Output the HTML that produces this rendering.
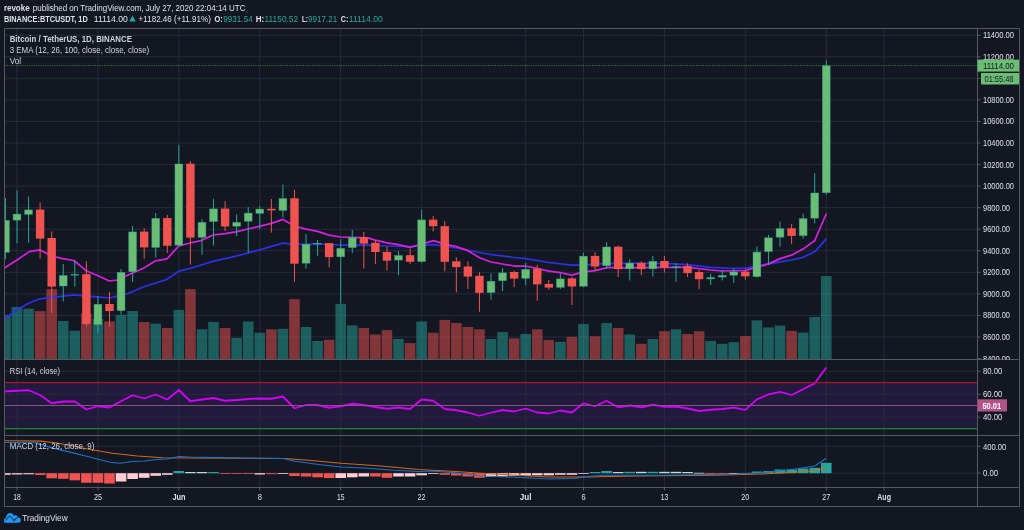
<!DOCTYPE html><html><head><meta charset="utf-8"><style>html,body{margin:0;padding:0;background:#131722;width:1024px;height:530px;overflow:hidden}svg{display:block}.ov{position:absolute;left:0;top:0;will-change:transform}text{font-family:"Liberation Sans",sans-serif}</style></head><body>
<svg width="1024" height="530" viewBox="0 0 1024 530">
<rect x="0" y="0" width="1024" height="530" fill="#131722"/>
<defs><clipPath id="main"><rect x="4.5" y="28.5" width="973" height="330.5"/></clipPath><clipPath id="rsi"><rect x="4.5" y="360.5" width="973" height="75"/></clipPath><clipPath id="macd"><rect x="4.5" y="436" width="973" height="51"/></clipPath></defs>
<rect x="4.5" y="382.5" width="973" height="46.25" fill="#221a3c"/>
<path d="M4.5 336.97H977.5 M4.5 315.42H977.5 M4.5 293.87H977.5 M4.5 272.32H977.5 M4.5 250.76H977.5 M4.5 229.21H977.5 M4.5 207.66H977.5 M4.5 186.11H977.5 M4.5 164.56H977.5 M4.5 143.0H977.5 M4.5 121.45H977.5 M4.5 99.9H977.5 M4.5 78.35H977.5 M4.5 56.8H977.5 M4.5 35.24H977.5 M4.5 371.2H977.5 M4.5 394.3H977.5 M4.5 417.2H977.5 M4.5 446.3H977.5 M4.5 473.2H977.5 M17.0 28.5V487.5 M97.93 28.5V487.5 M178.85 28.5V487.5 M259.78 28.5V487.5 M340.71 28.5V487.5 M421.63 28.5V487.5 M525.68 28.5V487.5 M583.49 28.5V487.5 M664.42 28.5V487.5 M745.34 28.5V487.5 M826.27 28.5V487.5 M884.08 28.5V487.5" stroke="#272b3c" stroke-width="1" fill="none"/>
<path d="M4.5 65.5H977.5" stroke="#4caf50" stroke-opacity="0.65" stroke-width="1" stroke-dasharray="1.1 1.16"/>
<g clip-path="url(#main)">
<rect x="0.14" y="315.00" width="10.6" height="44.00" fill="rgba(38,166,154,0.5)"/>
<rect x="11.70" y="307.00" width="10.6" height="52.00" fill="rgba(38,166,154,0.5)"/>
<rect x="23.26" y="308.70" width="10.6" height="50.30" fill="rgba(38,166,154,0.5)"/>
<rect x="34.82" y="311.10" width="10.6" height="47.90" fill="rgba(239,83,80,0.5)"/>
<rect x="46.38" y="289.10" width="10.6" height="69.90" fill="rgba(239,83,80,0.5)"/>
<rect x="57.94" y="321.00" width="10.6" height="38.00" fill="rgba(38,166,154,0.5)"/>
<rect x="69.51" y="330.70" width="10.6" height="28.30" fill="rgba(38,166,154,0.5)"/>
<rect x="81.07" y="313.50" width="10.6" height="45.50" fill="rgba(239,83,80,0.5)"/>
<rect x="92.63" y="318.80" width="10.6" height="40.20" fill="rgba(38,166,154,0.5)"/>
<rect x="104.19" y="321.40" width="10.6" height="37.60" fill="rgba(239,83,80,0.5)"/>
<rect x="115.75" y="314.80" width="10.6" height="44.20" fill="rgba(38,166,154,0.5)"/>
<rect x="127.31" y="311.00" width="10.6" height="48.00" fill="rgba(38,166,154,0.5)"/>
<rect x="138.87" y="322.00" width="10.6" height="37.00" fill="rgba(239,83,80,0.5)"/>
<rect x="150.43" y="323.50" width="10.6" height="35.50" fill="rgba(38,166,154,0.5)"/>
<rect x="161.99" y="328.00" width="10.6" height="31.00" fill="rgba(239,83,80,0.5)"/>
<rect x="173.55" y="310.00" width="10.6" height="49.00" fill="rgba(38,166,154,0.5)"/>
<rect x="185.11" y="289.10" width="10.6" height="69.90" fill="rgba(239,83,80,0.5)"/>
<rect x="196.68" y="329.30" width="10.6" height="29.70" fill="rgba(38,166,154,0.5)"/>
<rect x="208.24" y="322.00" width="10.6" height="37.00" fill="rgba(38,166,154,0.5)"/>
<rect x="219.80" y="328.00" width="10.6" height="31.00" fill="rgba(239,83,80,0.5)"/>
<rect x="231.36" y="337.90" width="10.6" height="21.10" fill="rgba(38,166,154,0.5)"/>
<rect x="242.92" y="321.50" width="10.6" height="37.50" fill="rgba(38,166,154,0.5)"/>
<rect x="254.48" y="332.70" width="10.6" height="26.30" fill="rgba(38,166,154,0.5)"/>
<rect x="266.04" y="329.30" width="10.6" height="29.70" fill="rgba(239,83,80,0.5)"/>
<rect x="277.60" y="328.80" width="10.6" height="30.20" fill="rgba(38,166,154,0.5)"/>
<rect x="289.16" y="299.10" width="10.6" height="59.90" fill="rgba(239,83,80,0.5)"/>
<rect x="300.72" y="327.00" width="10.6" height="32.00" fill="rgba(38,166,154,0.5)"/>
<rect x="312.29" y="341.00" width="10.6" height="18.00" fill="rgba(38,166,154,0.5)"/>
<rect x="323.85" y="339.80" width="10.6" height="19.20" fill="rgba(239,83,80,0.5)"/>
<rect x="335.41" y="303.90" width="10.6" height="55.10" fill="rgba(38,166,154,0.5)"/>
<rect x="346.97" y="325.40" width="10.6" height="33.60" fill="rgba(38,166,154,0.5)"/>
<rect x="358.53" y="328.00" width="10.6" height="31.00" fill="rgba(239,83,80,0.5)"/>
<rect x="370.09" y="334.50" width="10.6" height="24.50" fill="rgba(239,83,80,0.5)"/>
<rect x="381.65" y="330.10" width="10.6" height="28.90" fill="rgba(239,83,80,0.5)"/>
<rect x="393.21" y="339.00" width="10.6" height="20.00" fill="rgba(38,166,154,0.5)"/>
<rect x="404.77" y="343.10" width="10.6" height="15.90" fill="rgba(239,83,80,0.5)"/>
<rect x="416.33" y="321.50" width="10.6" height="37.50" fill="rgba(38,166,154,0.5)"/>
<rect x="427.90" y="332.70" width="10.6" height="26.30" fill="rgba(239,83,80,0.5)"/>
<rect x="439.46" y="319.90" width="10.6" height="39.10" fill="rgba(239,83,80,0.5)"/>
<rect x="451.02" y="323.00" width="10.6" height="36.00" fill="rgba(239,83,80,0.5)"/>
<rect x="462.58" y="327.00" width="10.6" height="32.00" fill="rgba(239,83,80,0.5)"/>
<rect x="474.14" y="329.30" width="10.6" height="29.70" fill="rgba(239,83,80,0.5)"/>
<rect x="485.70" y="339.00" width="10.6" height="20.00" fill="rgba(38,166,154,0.5)"/>
<rect x="497.26" y="332.10" width="10.6" height="26.90" fill="rgba(38,166,154,0.5)"/>
<rect x="508.82" y="338.40" width="10.6" height="20.60" fill="rgba(239,83,80,0.5)"/>
<rect x="520.38" y="334.00" width="10.6" height="25.00" fill="rgba(38,166,154,0.5)"/>
<rect x="531.95" y="329.30" width="10.6" height="29.70" fill="rgba(239,83,80,0.5)"/>
<rect x="543.51" y="339.90" width="10.6" height="19.10" fill="rgba(239,83,80,0.5)"/>
<rect x="555.07" y="341.80" width="10.6" height="17.20" fill="rgba(38,166,154,0.5)"/>
<rect x="566.63" y="336.80" width="10.6" height="22.20" fill="rgba(239,83,80,0.5)"/>
<rect x="578.19" y="324.10" width="10.6" height="34.90" fill="rgba(38,166,154,0.5)"/>
<rect x="589.75" y="336.30" width="10.6" height="22.70" fill="rgba(239,83,80,0.5)"/>
<rect x="601.31" y="323.00" width="10.6" height="36.00" fill="rgba(38,166,154,0.5)"/>
<rect x="612.87" y="328.00" width="10.6" height="31.00" fill="rgba(239,83,80,0.5)"/>
<rect x="624.43" y="334.50" width="10.6" height="24.50" fill="rgba(38,166,154,0.5)"/>
<rect x="635.99" y="343.80" width="10.6" height="15.20" fill="rgba(239,83,80,0.5)"/>
<rect x="647.56" y="339.00" width="10.6" height="20.00" fill="rgba(38,166,154,0.5)"/>
<rect x="659.12" y="331.20" width="10.6" height="27.80" fill="rgba(239,83,80,0.5)"/>
<rect x="670.68" y="329.30" width="10.6" height="29.70" fill="rgba(38,166,154,0.5)"/>
<rect x="682.24" y="334.00" width="10.6" height="25.00" fill="rgba(239,83,80,0.5)"/>
<rect x="693.80" y="331.20" width="10.6" height="27.80" fill="rgba(239,83,80,0.5)"/>
<rect x="705.36" y="341.00" width="10.6" height="18.00" fill="rgba(38,166,154,0.5)"/>
<rect x="716.92" y="343.80" width="10.6" height="15.20" fill="rgba(38,166,154,0.5)"/>
<rect x="728.48" y="342.20" width="10.6" height="16.80" fill="rgba(38,166,154,0.5)"/>
<rect x="740.04" y="336.10" width="10.6" height="22.90" fill="rgba(239,83,80,0.5)"/>
<rect x="751.60" y="320.40" width="10.6" height="38.60" fill="rgba(38,166,154,0.5)"/>
<rect x="763.17" y="327.40" width="10.6" height="31.60" fill="rgba(38,166,154,0.5)"/>
<rect x="774.73" y="325.60" width="10.6" height="33.40" fill="rgba(38,166,154,0.5)"/>
<rect x="786.29" y="330.90" width="10.6" height="28.10" fill="rgba(239,83,80,0.5)"/>
<rect x="797.85" y="332.60" width="10.6" height="26.40" fill="rgba(38,166,154,0.5)"/>
<rect x="809.41" y="317.00" width="10.6" height="42.00" fill="rgba(38,166,154,0.5)"/>
<rect x="820.97" y="276.10" width="10.6" height="82.90" fill="rgba(38,166,154,0.5)"/>
<polyline points="4.7,319 15.6,310.5 28.2,303.5 39.9,298.8 52.8,297.4 73.9,294.8 87,296.1 97.6,296.9 109.5,298 117.4,296.1 128,293.5 143,287 155.7,283 167,279.3 178.8,271.2 190,268.5 213,261.4 236,256.1 248,253 283,243.1 294.6,244.4 317.6,244 340.6,245 368,245 387,246 410,246.7 433.4,244.6 456.3,248 479.6,252.5 488,254.1 514,257.5 525.7,258.6 548.9,262.5 572,265.2 583.7,265.2 595,264.1 608,263.3 664.4,263.3 687.6,264.6 710.8,267.3 728,268.1 745.3,268.4 757,265.8 768.6,263.9 780,261.8 791.5,260 803,257.3 814.7,251.8 826.4,238.6" fill="none" stroke="#2c30e6" stroke-width="1.75" stroke-linejoin="round"/>
<polyline points="4.4,268 17,260 29.4,251.6 39.5,249.8 51.5,255.8 62.5,258.7 74,260.5 86,270.7 98,275.8 109.3,281 117.5,280 128,275 143,268.5 155.7,260.8 167,258.8 178.8,246 190,243 202,240.3 213,235 225,233.7 236,231.8 248,229 271.4,223.3 283,219.4 294.6,226 306,229.1 317.6,231.3 329,235.2 340.6,237 352,237.3 368,237.9 375.3,240.1 387,242.8 398.5,244.6 410,247.3 421.7,244.1 433.4,240.7 444.7,244.1 456.3,246.7 468,250.7 479.6,257.8 491,262 514,266 525.7,266 549,271.2 560.3,272.6 572,275.2 583.7,271.8 595,270.7 608,267.3 618,267.8 664.4,267.3 687.6,267.3 710.8,270 722,271 745.3,270.5 757,267.1 768.6,263.9 780,258.6 791.5,255.2 803,249.1 814.7,240.7 826.4,213.5" fill="none" stroke="#d81ee0" stroke-width="1.75" stroke-linejoin="round"/>
<rect x="4.94" y="198.0" width="1" height="61.20" fill="#26a69a"/>
<rect x="1.54" y="220.40" width="7.8" height="31.90" fill="#6bbd74" stroke="#26a69a" stroke-width="0.6" stroke-opacity="0.7"/>
<rect x="16.50" y="190.6" width="1" height="52.70" fill="#26a69a"/>
<rect x="13.10" y="214.10" width="7.8" height="6.00" fill="#6bbd74" stroke="#26a69a" stroke-width="0.6" stroke-opacity="0.7"/>
<rect x="28.06" y="196.6" width="1" height="46.20" fill="#26a69a"/>
<rect x="24.66" y="209.90" width="7.8" height="4.40" fill="#6bbd74" stroke="#26a69a" stroke-width="0.6" stroke-opacity="0.7"/>
<rect x="39.62" y="202.4" width="1" height="56.20" fill="#ef5350"/>
<rect x="35.92" y="209.6" width="8.4" height="29.00" fill="#ef5350"/>
<rect x="51.18" y="231.5" width="1" height="81.80" fill="#ef5350"/>
<rect x="47.48" y="238.0" width="8.4" height="48.60" fill="#ef5350"/>
<rect x="62.74" y="264.0" width="1" height="37.50" fill="#26a69a"/>
<rect x="59.34" y="275.50" width="7.8" height="10.50" fill="#6bbd74" stroke="#26a69a" stroke-width="0.6" stroke-opacity="0.7"/>
<rect x="74.31" y="260.5" width="1" height="26.00" fill="#26a69a"/>
<rect x="70.91" y="274.50" width="7.8" height="0.70" fill="#6bbd74" stroke="#26a69a" stroke-width="0.6" stroke-opacity="0.7"/>
<rect x="85.87" y="261.2" width="1" height="65.50" fill="#ef5350"/>
<rect x="82.17" y="274.2" width="8.4" height="49.80" fill="#ef5350"/>
<rect x="97.43" y="296.2" width="1" height="36.70" fill="#26a69a"/>
<rect x="94.03" y="304.30" width="7.8" height="20.20" fill="#6bbd74" stroke="#26a69a" stroke-width="0.6" stroke-opacity="0.7"/>
<rect x="108.99" y="291.8" width="1" height="34.90" fill="#ef5350"/>
<rect x="105.29" y="304.0" width="8.4" height="7.00" fill="#ef5350"/>
<rect x="120.55" y="269.0" width="1" height="45.50" fill="#26a69a"/>
<rect x="117.15" y="272.30" width="7.8" height="38.30" fill="#6bbd74" stroke="#26a69a" stroke-width="0.6" stroke-opacity="0.7"/>
<rect x="132.11" y="225.8" width="1" height="56.00" fill="#26a69a"/>
<rect x="128.71" y="231.90" width="7.8" height="39.80" fill="#6bbd74" stroke="#26a69a" stroke-width="0.6" stroke-opacity="0.7"/>
<rect x="143.67" y="228.4" width="1" height="30.40" fill="#ef5350"/>
<rect x="139.97" y="231.6" width="8.4" height="15.80" fill="#ef5350"/>
<rect x="155.23" y="213.1" width="1" height="44.30" fill="#26a69a"/>
<rect x="151.83" y="218.40" width="7.8" height="29.00" fill="#6bbd74" stroke="#26a69a" stroke-width="0.6" stroke-opacity="0.7"/>
<rect x="166.79" y="215.0" width="1" height="38.00" fill="#ef5350"/>
<rect x="163.09" y="218.1" width="8.4" height="27.70" fill="#ef5350"/>
<rect x="178.35" y="144.7" width="1" height="102.20" fill="#26a69a"/>
<rect x="174.95" y="164.00" width="7.8" height="81.20" fill="#6bbd74" stroke="#26a69a" stroke-width="0.6" stroke-opacity="0.7"/>
<rect x="189.91" y="161.1" width="1" height="103.50" fill="#ef5350"/>
<rect x="186.22" y="163.7" width="8.4" height="73.90" fill="#ef5350"/>
<rect x="201.48" y="219.2" width="1" height="35.60" fill="#26a69a"/>
<rect x="198.08" y="222.40" width="7.8" height="14.90" fill="#6bbd74" stroke="#26a69a" stroke-width="0.6" stroke-opacity="0.7"/>
<rect x="213.04" y="198.8" width="1" height="46.70" fill="#26a69a"/>
<rect x="209.64" y="208.90" width="7.8" height="12.60" fill="#6bbd74" stroke="#26a69a" stroke-width="0.6" stroke-opacity="0.7"/>
<rect x="224.60" y="201.2" width="1" height="29.80" fill="#ef5350"/>
<rect x="220.90" y="208.6" width="8.4" height="17.90" fill="#ef5350"/>
<rect x="236.16" y="214.4" width="1" height="21.90" fill="#26a69a"/>
<rect x="232.76" y="222.40" width="7.8" height="3.80" fill="#6bbd74" stroke="#26a69a" stroke-width="0.6" stroke-opacity="0.7"/>
<rect x="247.72" y="207.0" width="1" height="45.90" fill="#26a69a"/>
<rect x="244.32" y="213.10" width="7.8" height="8.10" fill="#6bbd74" stroke="#26a69a" stroke-width="0.6" stroke-opacity="0.7"/>
<rect x="259.28" y="206.0" width="1" height="23.00" fill="#26a69a"/>
<rect x="255.88" y="209.10" width="7.8" height="4.20" fill="#6bbd74" stroke="#26a69a" stroke-width="0.6" stroke-opacity="0.7"/>
<rect x="270.84" y="199.0" width="1" height="33.60" fill="#ef5350"/>
<rect x="267.14" y="208.8" width="8.4" height="1.60" fill="#ef5350"/>
<rect x="282.40" y="184.5" width="1" height="33.00" fill="#26a69a"/>
<rect x="279.00" y="198.60" width="7.8" height="11.80" fill="#6bbd74" stroke="#26a69a" stroke-width="0.6" stroke-opacity="0.7"/>
<rect x="293.96" y="189.8" width="1" height="92.10" fill="#ef5350"/>
<rect x="290.26" y="198.3" width="8.4" height="65.40" fill="#ef5350"/>
<rect x="305.52" y="233.9" width="1" height="34.80" fill="#26a69a"/>
<rect x="302.12" y="244.20" width="7.8" height="19.00" fill="#6bbd74" stroke="#26a69a" stroke-width="0.6" stroke-opacity="0.7"/>
<rect x="317.09" y="240.0" width="1" height="15.80" fill="#26a69a"/>
<rect x="313.69" y="243.40" width="7.8" height="0.60" fill="#6bbd74" stroke="#26a69a" stroke-width="0.6" stroke-opacity="0.7"/>
<rect x="328.65" y="243.1" width="1" height="24.30" fill="#ef5350"/>
<rect x="324.95" y="243.1" width="8.4" height="14.00" fill="#ef5350"/>
<rect x="340.21" y="239.2" width="1" height="64.30" fill="#26a69a"/>
<rect x="336.81" y="248.40" width="7.8" height="8.40" fill="#6bbd74" stroke="#26a69a" stroke-width="0.6" stroke-opacity="0.7"/>
<rect x="351.77" y="230.0" width="1" height="22.90" fill="#26a69a"/>
<rect x="348.37" y="237.60" width="7.8" height="10.00" fill="#6bbd74" stroke="#26a69a" stroke-width="0.6" stroke-opacity="0.7"/>
<rect x="363.33" y="231.8" width="1" height="36.60" fill="#ef5350"/>
<rect x="359.63" y="237.3" width="8.4" height="6.30" fill="#ef5350"/>
<rect x="374.89" y="240.0" width="1" height="23.90" fill="#ef5350"/>
<rect x="371.19" y="242.8" width="8.4" height="9.20" fill="#ef5350"/>
<rect x="386.45" y="246.7" width="1" height="23.80" fill="#ef5350"/>
<rect x="382.75" y="252.0" width="8.4" height="8.70" fill="#ef5350"/>
<rect x="398.01" y="251.2" width="1" height="24.00" fill="#26a69a"/>
<rect x="394.61" y="255.50" width="7.8" height="4.60" fill="#6bbd74" stroke="#26a69a" stroke-width="0.6" stroke-opacity="0.7"/>
<rect x="409.57" y="248.6" width="1" height="15.30" fill="#ef5350"/>
<rect x="405.87" y="255.2" width="8.4" height="6.60" fill="#ef5350"/>
<rect x="421.13" y="209.8" width="1" height="52.80" fill="#26a69a"/>
<rect x="417.74" y="219.90" width="7.8" height="41.60" fill="#6bbd74" stroke="#26a69a" stroke-width="0.6" stroke-opacity="0.7"/>
<rect x="432.70" y="215.9" width="1" height="15.50" fill="#ef5350"/>
<rect x="429.00" y="219.6" width="8.4" height="6.60" fill="#ef5350"/>
<rect x="444.26" y="221.1" width="1" height="50.20" fill="#ef5350"/>
<rect x="440.56" y="226.2" width="8.4" height="35.60" fill="#ef5350"/>
<rect x="455.82" y="257.3" width="1" height="35.10" fill="#ef5350"/>
<rect x="452.12" y="261.3" width="8.4" height="5.80" fill="#ef5350"/>
<rect x="467.38" y="261.3" width="1" height="27.70" fill="#ef5350"/>
<rect x="463.68" y="266.5" width="8.4" height="10.10" fill="#ef5350"/>
<rect x="478.94" y="272.3" width="1" height="39.50" fill="#ef5350"/>
<rect x="475.24" y="275.8" width="8.4" height="17.10" fill="#ef5350"/>
<rect x="490.50" y="273.4" width="1" height="26.20" fill="#26a69a"/>
<rect x="487.10" y="281.30" width="7.8" height="11.30" fill="#6bbd74" stroke="#26a69a" stroke-width="0.6" stroke-opacity="0.7"/>
<rect x="502.06" y="268.1" width="1" height="22.90" fill="#26a69a"/>
<rect x="498.66" y="272.90" width="7.8" height="7.80" fill="#6bbd74" stroke="#26a69a" stroke-width="0.6" stroke-opacity="0.7"/>
<rect x="513.62" y="270.7" width="1" height="16.40" fill="#ef5350"/>
<rect x="509.92" y="272.0" width="8.4" height="6.60" fill="#ef5350"/>
<rect x="525.18" y="262.8" width="1" height="22.40" fill="#26a69a"/>
<rect x="521.78" y="269.40" width="7.8" height="8.90" fill="#6bbd74" stroke="#26a69a" stroke-width="0.6" stroke-opacity="0.7"/>
<rect x="536.75" y="264.9" width="1" height="35.90" fill="#ef5350"/>
<rect x="533.04" y="268.6" width="8.4" height="15.80" fill="#ef5350"/>
<rect x="548.31" y="280.0" width="1" height="9.70" fill="#ef5350"/>
<rect x="544.61" y="283.9" width="8.4" height="3.70" fill="#ef5350"/>
<rect x="559.87" y="273.4" width="1" height="15.50" fill="#26a69a"/>
<rect x="556.47" y="278.90" width="7.8" height="8.40" fill="#6bbd74" stroke="#26a69a" stroke-width="0.6" stroke-opacity="0.7"/>
<rect x="571.43" y="277.0" width="1" height="28.00" fill="#ef5350"/>
<rect x="567.73" y="278.4" width="8.4" height="8.10" fill="#ef5350"/>
<rect x="582.99" y="252.8" width="1" height="34.30" fill="#26a69a"/>
<rect x="579.59" y="256.20" width="7.8" height="30.00" fill="#6bbd74" stroke="#26a69a" stroke-width="0.6" stroke-opacity="0.7"/>
<rect x="594.55" y="252.2" width="1" height="19.00" fill="#ef5350"/>
<rect x="590.85" y="255.9" width="8.4" height="10.60" fill="#ef5350"/>
<rect x="606.11" y="242.2" width="1" height="26.90" fill="#26a69a"/>
<rect x="602.71" y="247.00" width="7.8" height="18.70" fill="#6bbd74" stroke="#26a69a" stroke-width="0.6" stroke-opacity="0.7"/>
<rect x="617.67" y="245.6" width="1" height="31.40" fill="#ef5350"/>
<rect x="613.97" y="246.7" width="8.4" height="22.40" fill="#ef5350"/>
<rect x="629.23" y="259.4" width="1" height="21.10" fill="#26a69a"/>
<rect x="625.83" y="263.10" width="7.8" height="5.70" fill="#6bbd74" stroke="#26a69a" stroke-width="0.6" stroke-opacity="0.7"/>
<rect x="640.79" y="261.2" width="1" height="14.00" fill="#ef5350"/>
<rect x="637.09" y="262.8" width="8.4" height="6.30" fill="#ef5350"/>
<rect x="652.36" y="256.0" width="1" height="20.50" fill="#26a69a"/>
<rect x="648.96" y="261.30" width="7.8" height="7.50" fill="#6bbd74" stroke="#26a69a" stroke-width="0.6" stroke-opacity="0.7"/>
<rect x="663.92" y="256.0" width="1" height="16.60" fill="#ef5350"/>
<rect x="660.22" y="261.0" width="8.4" height="6.80" fill="#ef5350"/>
<rect x="675.48" y="263.3" width="1" height="18.50" fill="#26a69a"/>
<rect x="672.08" y="266.80" width="7.8" height="0.70" fill="#6bbd74" stroke="#26a69a" stroke-width="0.6" stroke-opacity="0.7"/>
<rect x="687.04" y="263.3" width="1" height="13.70" fill="#ef5350"/>
<rect x="683.34" y="266.0" width="8.4" height="7.10" fill="#ef5350"/>
<rect x="698.60" y="270.0" width="1" height="19.20" fill="#ef5350"/>
<rect x="694.90" y="272.0" width="8.4" height="7.20" fill="#ef5350"/>
<rect x="710.16" y="273.9" width="1" height="11.10" fill="#26a69a"/>
<rect x="706.76" y="277.60" width="7.8" height="1.30" fill="#6bbd74" stroke="#26a69a" stroke-width="0.6" stroke-opacity="0.7"/>
<rect x="721.72" y="270.0" width="1" height="10.50" fill="#26a69a"/>
<rect x="718.32" y="275.50" width="7.8" height="1.50" fill="#6bbd74" stroke="#26a69a" stroke-width="0.6" stroke-opacity="0.7"/>
<rect x="733.28" y="268.4" width="1" height="14.50" fill="#26a69a"/>
<rect x="729.88" y="271.90" width="7.8" height="3.30" fill="#6bbd74" stroke="#26a69a" stroke-width="0.6" stroke-opacity="0.7"/>
<rect x="744.84" y="269.7" width="1" height="10.10" fill="#ef5350"/>
<rect x="741.14" y="271.6" width="8.4" height="4.70" fill="#ef5350"/>
<rect x="756.40" y="246.5" width="1" height="31.10" fill="#26a69a"/>
<rect x="753.00" y="252.10" width="7.8" height="24.50" fill="#6bbd74" stroke="#26a69a" stroke-width="0.6" stroke-opacity="0.7"/>
<rect x="767.97" y="234.9" width="1" height="30.10" fill="#26a69a"/>
<rect x="764.57" y="237.80" width="7.8" height="13.70" fill="#6bbd74" stroke="#26a69a" stroke-width="0.6" stroke-opacity="0.7"/>
<rect x="779.53" y="221.7" width="1" height="24.80" fill="#26a69a"/>
<rect x="776.13" y="228.60" width="7.8" height="8.60" fill="#6bbd74" stroke="#26a69a" stroke-width="0.6" stroke-opacity="0.7"/>
<rect x="791.09" y="224.1" width="1" height="19.80" fill="#ef5350"/>
<rect x="787.39" y="228.3" width="8.4" height="7.60" fill="#ef5350"/>
<rect x="802.65" y="213.8" width="1" height="24.80" fill="#26a69a"/>
<rect x="799.25" y="218.60" width="7.8" height="17.00" fill="#6bbd74" stroke="#26a69a" stroke-width="0.6" stroke-opacity="0.7"/>
<rect x="814.21" y="173.2" width="1" height="50.10" fill="#26a69a"/>
<rect x="810.81" y="193.00" width="7.8" height="25.20" fill="#6bbd74" stroke="#26a69a" stroke-width="0.6" stroke-opacity="0.7"/>
<rect x="825.77" y="60.5" width="1" height="134.00" fill="#26a69a"/>
<rect x="822.37" y="65.70" width="7.8" height="127.00" fill="#6bbd74" stroke="#26a69a" stroke-width="0.6" stroke-opacity="0.7"/>
</g>
<g clip-path="url(#rsi)"><polyline points="4,391.5 17,390.75 28.6,390.25 40.1,395 51.7,403.25 63.2,401.5 74.8,401.5 86.4,409.5 97.9,406.25 109.5,407.5 121,401.25 132.6,395.25 144.2,398.5 155.7,394.5 167.3,399.5 178.8,390 190.4,401.25 202,399.5 213.5,398 225.1,400.75 236.7,400 248.2,399 259.8,398.5 271.3,398.75 282.9,396.5 294.5,408.25 306,405 317.6,405 329.1,407.75 340.7,406.25 352.3,403.75 363.8,405 375.4,407 387,408.75 398.5,407.5 410.1,409 421.6,399.5 433.2,400.75 444.8,409 456.3,410.25 467.9,412.5 479.4,415.75 491,412.75 502.5,410 514.1,411.5 525.7,408.5 537.2,412.5 548.8,413.5 560.3,410.5 571.9,412.5 583.5,403.25 595,406.25 606.6,400.75 618.2,407.25 629.7,405.5 641.3,407.25 652.9,404.75 664.4,406.75 676,406.5 687.5,408.5 699.1,411 710.7,409.75 722.2,409 733.8,407.6 745.3,409.8 756.9,399.3 768.5,394.4 780,391.8 791.6,395 803.1,389.2 814.7,383.4 826.3,367.5" fill="none" stroke="#d500f9" stroke-width="1.8" stroke-linejoin="round"/></g>
<path d="M4.5 382.6H977.5" stroke="#a8162a" stroke-width="1.3"/>
<path d="M4.5 428.75H977.5" stroke="#1aa82a" stroke-width="1.2"/>
<path d="M4.5 405.5H977.5" stroke="#8e4f86" stroke-width="1"/>
<g clip-path="url(#macd)">
<rect x="0.14" y="473.20" width="10.6" height="1.60" fill="#ffcdd2"/>
<rect x="11.70" y="473.20" width="10.6" height="1.30" fill="#ffcdd2"/>
<rect x="23.26" y="473.20" width="10.6" height="1.10" fill="#ffcdd2"/>
<rect x="34.82" y="473.20" width="10.6" height="1.80" fill="#ef5350"/>
<rect x="46.38" y="473.20" width="10.6" height="5.10" fill="#ef5350"/>
<rect x="57.94" y="473.20" width="10.6" height="5.60" fill="#ef5350"/>
<rect x="69.51" y="473.20" width="10.6" height="7.10" fill="#ef5350"/>
<rect x="81.07" y="473.20" width="10.6" height="9.60" fill="#ef5350"/>
<rect x="92.63" y="473.20" width="10.6" height="9.60" fill="#ef5350"/>
<rect x="104.19" y="473.20" width="10.6" height="10.30" fill="#ef5350"/>
<rect x="115.75" y="473.20" width="10.6" height="8.30" fill="#ffcdd2"/>
<rect x="127.31" y="473.20" width="10.6" height="5.80" fill="#ffcdd2"/>
<rect x="138.87" y="473.20" width="10.6" height="4.60" fill="#ffcdd2"/>
<rect x="150.43" y="473.20" width="10.6" height="2.60" fill="#ffcdd2"/>
<rect x="161.99" y="473.20" width="10.6" height="1.60" fill="#ffcdd2"/>
<rect x="173.55" y="471.00" width="10.6" height="2.20" fill="#26a69a"/>
<rect x="185.11" y="472.00" width="10.6" height="1.20" fill="#b2dfdb"/>
<rect x="196.68" y="472.00" width="10.6" height="1.20" fill="#b2dfdb"/>
<rect x="208.24" y="472.00" width="10.6" height="1.20" fill="#26a69a"/>
<rect x="219.80" y="473.20" width="10.6" height="0.80" fill="#ef5350"/>
<rect x="231.36" y="473.20" width="10.6" height="0.80" fill="#ef5350"/>
<rect x="242.92" y="473.20" width="10.6" height="0.80" fill="#ef5350"/>
<rect x="254.48" y="473.20" width="10.6" height="1.30" fill="#ffcdd2"/>
<rect x="266.04" y="473.20" width="10.6" height="1.00" fill="#ef5350"/>
<rect x="277.60" y="473.20" width="10.6" height="0.80" fill="#ffcdd2"/>
<rect x="289.16" y="473.20" width="10.6" height="2.80" fill="#ef5350"/>
<rect x="300.72" y="473.20" width="10.6" height="3.30" fill="#ef5350"/>
<rect x="312.29" y="473.20" width="10.6" height="4.10" fill="#ef5350"/>
<rect x="323.85" y="473.20" width="10.6" height="4.80" fill="#ef5350"/>
<rect x="335.41" y="473.20" width="10.6" height="4.80" fill="#ffcdd2"/>
<rect x="346.97" y="473.20" width="10.6" height="4.10" fill="#ffcdd2"/>
<rect x="358.53" y="473.20" width="10.6" height="3.30" fill="#ffcdd2"/>
<rect x="370.09" y="473.20" width="10.6" height="3.30" fill="#ef5350"/>
<rect x="381.65" y="473.20" width="10.6" height="4.60" fill="#ef5350"/>
<rect x="393.21" y="473.20" width="10.6" height="3.30" fill="#ffcdd2"/>
<rect x="404.77" y="473.20" width="10.6" height="3.30" fill="#ffcdd2"/>
<rect x="416.33" y="473.20" width="10.6" height="2.10" fill="#ffcdd2"/>
<rect x="427.90" y="473.20" width="10.6" height="0.80" fill="#ffcdd2"/>
<rect x="439.46" y="473.20" width="10.6" height="1.60" fill="#ef5350"/>
<rect x="451.02" y="473.20" width="10.6" height="2.30" fill="#ef5350"/>
<rect x="462.58" y="473.20" width="10.6" height="3.30" fill="#ef5350"/>
<rect x="474.14" y="473.20" width="10.6" height="4.60" fill="#ef5350"/>
<rect x="485.70" y="473.20" width="10.6" height="3.80" fill="#ffcdd2"/>
<rect x="497.26" y="473.20" width="10.6" height="3.30" fill="#ffcdd2"/>
<rect x="508.82" y="473.20" width="10.6" height="2.60" fill="#ffcdd2"/>
<rect x="520.38" y="473.20" width="10.6" height="2.60" fill="#ffcdd2"/>
<rect x="531.95" y="473.20" width="10.6" height="2.10" fill="#ffcdd2"/>
<rect x="543.51" y="473.20" width="10.6" height="2.10" fill="#ffcdd2"/>
<rect x="555.07" y="473.20" width="10.6" height="1.60" fill="#ffcdd2"/>
<rect x="566.63" y="473.20" width="10.6" height="1.60" fill="#ffcdd2"/>
<rect x="578.19" y="473.20" width="10.6" height="0.80" fill="#ffcdd2"/>
<rect x="589.75" y="472.00" width="10.6" height="1.20" fill="#26a69a"/>
<rect x="601.31" y="471.00" width="10.6" height="2.20" fill="#26a69a"/>
<rect x="612.87" y="472.00" width="10.6" height="1.20" fill="#b2dfdb"/>
<rect x="624.43" y="471.80" width="10.6" height="1.40" fill="#26a69a"/>
<rect x="635.99" y="471.80" width="10.6" height="1.40" fill="#b2dfdb"/>
<rect x="647.56" y="471.80" width="10.6" height="1.40" fill="#26a69a"/>
<rect x="659.12" y="471.80" width="10.6" height="1.40" fill="#b2dfdb"/>
<rect x="670.68" y="471.80" width="10.6" height="1.40" fill="#b2dfdb"/>
<rect x="682.24" y="472.00" width="10.6" height="1.20" fill="#b2dfdb"/>
<rect x="693.80" y="472.80" width="10.6" height="0.80" fill="#b2dfdb"/>
<rect x="705.36" y="473.20" width="10.6" height="0.80" fill="#ef5350"/>
<rect x="716.92" y="473.20" width="10.6" height="0.80" fill="#ef5350"/>
<rect x="728.48" y="473.20" width="10.6" height="0.80" fill="#ffcdd2"/>
<rect x="740.04" y="473.20" width="10.6" height="0.80" fill="#ef5350"/>
<rect x="751.60" y="471.50" width="10.6" height="1.70" fill="#26a69a"/>
<rect x="763.17" y="471.00" width="10.6" height="2.20" fill="#26a69a"/>
<rect x="774.73" y="469.50" width="10.6" height="3.70" fill="#26a69a"/>
<rect x="786.29" y="469.50" width="10.6" height="3.70" fill="#26a69a"/>
<rect x="797.85" y="468.50" width="10.6" height="4.70" fill="#26a69a"/>
<rect x="809.41" y="467.80" width="10.6" height="5.40" fill="#26a69a"/>
<rect x="820.97" y="462.80" width="10.6" height="10.40" fill="#26a69a"/>
<polyline points="4.5,440.8 41,441.1 54.7,442.8 70,445.2 87.5,449 112.5,453.25 137.5,456 162.5,457.75 187.5,458 256,458.25 283.5,458.5 306,460 341,463.25 381,466 418.5,469.5 456,471.5 481,473.25 512,475 549.5,477 587,477 637,476 712,475.25 761,474 786,472.75 811,471 826.25,468.25" fill="none" stroke="#d0691f" stroke-width="1.1" stroke-linejoin="round"/>
<polyline points="4.5,442.5 34.2,442.8 44.4,445.6 54.7,448.6 70,452.1 87.5,456.5 100,459.75 110,462.25 120,463.25 132.5,461.5 145,461 156,459.5 167.5,459 178.75,456.5 190,457 256,458.25 283.5,458.5 293.5,461 318.5,464.5 341,467 368.5,468.25 393.5,470.25 418.5,471.5 431,471 456,472.75 481,476 512,477 549.5,479 574.5,478.5 587,476.5 604.5,475.25 662,475.25 736,474 761,472.75 786,470.25 803.5,467.75 814.75,466 826.25,458.25" fill="none" stroke="#1c74c8" stroke-width="1.1" stroke-linejoin="round"/>
</g>
<path d="M4.5 28.5H1019.5V506.5H4.5Z M977.5 28.5V506.5 M4.5 359.5H1019.5 M4.5 435.5H1019.5 M4.5 487.5H1019.5" stroke="#58595f" stroke-width="1" fill="none"/>
<path d="M977.5 358.52h3 M977.5 336.97h3 M977.5 315.42h3 M977.5 293.87h3 M977.5 272.32h3 M977.5 250.76h3 M977.5 229.21h3 M977.5 207.66h3 M977.5 186.11h3 M977.5 164.56h3 M977.5 143.0h3 M977.5 121.45h3 M977.5 99.9h3 M977.5 78.35h3 M977.5 56.8h3 M977.5 35.24h3 M977.5 371.2h3 M977.5 394.3h3 M977.5 417.2h3 M977.5 446.3h3 M977.5 473.2h3" stroke="#58595f" stroke-width="1"/>
<path d="M17.0 487.5v3 M97.93 487.5v3 M178.85 487.5v3 M259.78 487.5v3 M340.71 487.5v3 M421.63 487.5v3 M525.68 487.5v3 M583.49 487.5v3 M664.42 487.5v3 M745.34 487.5v3 M826.27 487.5v3 M884.08 487.5v3" stroke="#58595f" stroke-width="1"/>
</svg><svg class="ov" width="1024" height="530" viewBox="0 0 1024 530"><defs><clipPath id="pax"><rect x="978" y="29" width="41" height="330.5"/></clipPath></defs><g>
<g clip-path="url(#pax)">
<text x="983" y="361.525" font-size="9.3" fill="#dfe1e6" textLength="27" lengthAdjust="spacingAndGlyphs" text-anchor="start">8400.00</text>
<text x="983" y="339.973" font-size="9.3" fill="#dfe1e6" textLength="27" lengthAdjust="spacingAndGlyphs" text-anchor="start">8600.00</text>
<text x="983" y="318.421" font-size="9.3" fill="#dfe1e6" textLength="27" lengthAdjust="spacingAndGlyphs" text-anchor="start">8800.00</text>
<text x="983" y="296.869" font-size="9.3" fill="#dfe1e6" textLength="27" lengthAdjust="spacingAndGlyphs" text-anchor="start">9000.00</text>
<text x="983" y="275.317" font-size="9.3" fill="#dfe1e6" textLength="27" lengthAdjust="spacingAndGlyphs" text-anchor="start">9200.00</text>
<text x="983" y="253.765" font-size="9.3" fill="#dfe1e6" textLength="27" lengthAdjust="spacingAndGlyphs" text-anchor="start">9400.00</text>
<text x="983" y="232.213" font-size="9.3" fill="#dfe1e6" textLength="27" lengthAdjust="spacingAndGlyphs" text-anchor="start">9600.00</text>
<text x="983" y="210.661" font-size="9.3" fill="#dfe1e6" textLength="27" lengthAdjust="spacingAndGlyphs" text-anchor="start">9800.00</text>
<text x="983" y="189.109" font-size="9.3" fill="#dfe1e6" textLength="31" lengthAdjust="spacingAndGlyphs" text-anchor="start">10000.00</text>
<text x="983" y="167.55700000000002" font-size="9.3" fill="#dfe1e6" textLength="31" lengthAdjust="spacingAndGlyphs" text-anchor="start">10200.00</text>
<text x="983" y="146.005" font-size="9.3" fill="#dfe1e6" textLength="31" lengthAdjust="spacingAndGlyphs" text-anchor="start">10400.00</text>
<text x="983" y="124.453" font-size="9.3" fill="#dfe1e6" textLength="31" lengthAdjust="spacingAndGlyphs" text-anchor="start">10600.00</text>
<text x="983" y="102.90100000000001" font-size="9.3" fill="#dfe1e6" textLength="31" lengthAdjust="spacingAndGlyphs" text-anchor="start">10800.00</text>
<text x="983" y="81.34899999999999" font-size="9.3" fill="#dfe1e6" textLength="31" lengthAdjust="spacingAndGlyphs" text-anchor="start">11000.00</text>
<text x="983" y="59.797" font-size="9.3" fill="#dfe1e6" textLength="31" lengthAdjust="spacingAndGlyphs" text-anchor="start">11200.00</text>
<text x="983" y="38.245" font-size="9.3" fill="#dfe1e6" textLength="31" lengthAdjust="spacingAndGlyphs" text-anchor="start">11400.00</text>
</g>
<text x="983" y="374.3" font-size="9.3" fill="#dfe1e6" textLength="19.4" lengthAdjust="spacingAndGlyphs" text-anchor="start">80.00</text>
<text x="983" y="397.4" font-size="9.3" fill="#dfe1e6" textLength="19.4" lengthAdjust="spacingAndGlyphs" text-anchor="start">60.00</text>
<text x="983" y="420.3" font-size="9.3" fill="#dfe1e6" textLength="19.4" lengthAdjust="spacingAndGlyphs" text-anchor="start">40.00</text>
<text x="983" y="449.6" font-size="9.3" fill="#dfe1e6" textLength="23.3" lengthAdjust="spacingAndGlyphs" text-anchor="start">400.00</text>
<text x="983" y="476.2" font-size="9.3" fill="#dfe1e6" textLength="15.1" lengthAdjust="spacingAndGlyphs" text-anchor="start">0.00</text>
<rect x="977.5" y="59.6" width="41.5" height="12" fill="#6bbd74"/>
<text x="983" y="68.8" font-size="9.3" fill="#131722" textLength="31" lengthAdjust="spacingAndGlyphs" text-anchor="start">11114.00</text>
<rect x="981" y="73" width="38" height="11.5" fill="#6bbd74"/>
<text x="984.5" y="82" font-size="9.3" fill="#131722" textLength="29" lengthAdjust="spacingAndGlyphs" text-anchor="start">01:55:48</text>
<rect x="977.5" y="399.3" width="29.5" height="12.2" fill="#b3538a"/>
<text x="982.4" y="408.6" font-size="9.3" fill="#ffffff" font-weight="bold" textLength="18.8" lengthAdjust="spacingAndGlyphs" text-anchor="start">50.01</text>
<text x="17.0" y="500" font-size="9.2" fill="#dfe1e6" textLength="7.5" lengthAdjust="spacingAndGlyphs" text-anchor="middle">18</text>
<text x="97.9" y="500" font-size="9.2" fill="#dfe1e6" textLength="8" lengthAdjust="spacingAndGlyphs" text-anchor="middle">25</text>
<text x="178.9" y="500" font-size="9.2" fill="#dfe1e6" font-weight="bold" textLength="13" lengthAdjust="spacingAndGlyphs" text-anchor="middle">Jun</text>
<text x="259.8" y="500" font-size="9.2" fill="#dfe1e6" textLength="4.2" lengthAdjust="spacingAndGlyphs" text-anchor="middle">8</text>
<text x="340.7" y="500" font-size="9.2" fill="#dfe1e6" textLength="7.5" lengthAdjust="spacingAndGlyphs" text-anchor="middle">15</text>
<text x="421.6" y="500" font-size="9.2" fill="#dfe1e6" textLength="8" lengthAdjust="spacingAndGlyphs" text-anchor="middle">22</text>
<text x="525.7" y="500" font-size="9.2" fill="#dfe1e6" font-weight="bold" textLength="11.7" lengthAdjust="spacingAndGlyphs" text-anchor="middle">Jul</text>
<text x="583.5" y="500" font-size="9.2" fill="#dfe1e6" textLength="4.2" lengthAdjust="spacingAndGlyphs" text-anchor="middle">6</text>
<text x="664.4" y="500" font-size="9.2" fill="#dfe1e6" textLength="7.5" lengthAdjust="spacingAndGlyphs" text-anchor="middle">13</text>
<text x="745.3" y="500" font-size="9.2" fill="#dfe1e6" textLength="8" lengthAdjust="spacingAndGlyphs" text-anchor="middle">20</text>
<text x="826.3" y="500" font-size="9.2" fill="#dfe1e6" textLength="8" lengthAdjust="spacingAndGlyphs" text-anchor="middle">27</text>
<text x="884.1" y="500" font-size="9.2" fill="#dfe1e6" font-weight="bold" textLength="13.7" lengthAdjust="spacingAndGlyphs" text-anchor="middle">Aug</text>
<text x="3.9" y="11" font-size="9.2" fill="#dfe1e6" font-weight="bold" textLength="25.7" lengthAdjust="spacingAndGlyphs" text-anchor="start">revoke</text>
<text x="32.8" y="11" font-size="9.2" fill="#dfe1e6" textLength="212.7" lengthAdjust="spacingAndGlyphs" text-anchor="start">published on TradingView.com, July 27, 2020 22:04:14 UTC</text>
<text x="3.9" y="21.8" font-size="9.2" fill="#dfe1e6" font-weight="bold" textLength="83.9" lengthAdjust="spacingAndGlyphs" text-anchor="start">BINANCE:BTCUSDT, 1D</text>
<text x="93.75" y="21.8" font-size="9.2" fill="#dfe1e6" textLength="34" lengthAdjust="spacingAndGlyphs" text-anchor="start">11114.00</text>
<path d="M129.2 21.6L132.5 15.4L135.8 21.6Z" fill="#26a69a"/>
<text x="138.6" y="21.8" font-size="9.2" fill="#dfe1e6" textLength="72.3" lengthAdjust="spacingAndGlyphs" text-anchor="start">+1182.46 (+11.91%)</text>
<text x="214.4" y="21.8" font-size="9.2" fill="#dfe1e6" font-weight="bold" textLength="8.3" lengthAdjust="spacingAndGlyphs" text-anchor="start">O:</text>
<text x="223.3" y="21.8" font-size="9.2" fill="#26a69a" textLength="29.4" lengthAdjust="spacingAndGlyphs" text-anchor="start">9931.54</text>
<text x="255.7" y="21.8" font-size="9.2" fill="#dfe1e6" font-weight="bold" textLength="8.5" lengthAdjust="spacingAndGlyphs" text-anchor="start">H:</text>
<text x="264.6" y="21.8" font-size="9.2" fill="#26a69a" textLength="33.5" lengthAdjust="spacingAndGlyphs" text-anchor="start">11150.52</text>
<text x="301.9" y="21.8" font-size="9.2" fill="#dfe1e6" font-weight="bold" textLength="5.8" lengthAdjust="spacingAndGlyphs" text-anchor="start">L:</text>
<text x="308.1" y="21.8" font-size="9.2" fill="#26a69a" textLength="29.0" lengthAdjust="spacingAndGlyphs" text-anchor="start">9917.21</text>
<text x="340.8" y="21.8" font-size="9.2" fill="#dfe1e6" font-weight="bold" textLength="7.6" lengthAdjust="spacingAndGlyphs" text-anchor="start">C:</text>
<text x="348.8" y="21.8" font-size="9.2" fill="#26a69a" textLength="34.0" lengthAdjust="spacingAndGlyphs" text-anchor="start">11114.00</text>
<text x="9.7" y="42.2" font-size="9.2" fill="#d1d4dc" font-weight="bold" textLength="122.3" lengthAdjust="spacingAndGlyphs" text-anchor="start">Bitcoin / TetherUS, 1D, BINANCE</text>
<text x="9.7" y="53.1" font-size="9.2" fill="#d1d4dc" textLength="139.5" lengthAdjust="spacingAndGlyphs" text-anchor="start">3 EMA (12, 26, 100, close, close, close)</text>
<text x="9.7" y="64" font-size="9.2" fill="#d1d4dc" textLength="11.4" lengthAdjust="spacingAndGlyphs" text-anchor="start">Vol</text>
<text x="9.8" y="373.5" font-size="9.2" fill="#d1d4dc" textLength="50.2" lengthAdjust="spacingAndGlyphs" text-anchor="start">RSI (14, close)</text>
<text x="9.8" y="449" font-size="9.2" fill="#d1d4dc" textLength="84.5" lengthAdjust="spacingAndGlyphs" text-anchor="start">MACD (12, 26, close, 9)</text>
<path d="M5.6 522.8C3.4 522.8 3.2 518.4 5.8 517.9C6.2 515 8 513 10.1 513C12 513 13.3 514.2 13.9 515.7C14.9 514.9 16.8 515.1 17.5 516.7C20.1 517 21.6 519.6 20.5 521.6C20 522.4 19.3 522.8 18.5 522.8Z" fill="#2196f3"/><path d="M5.2 520.4L9.8 515.9L14 520.2L19.3 516.3" stroke="#131722" stroke-width="0.9" fill="none" stroke-linejoin="round"/><circle cx="14" cy="520.2" r="0.9" fill="#2196f3" stroke="#131722" stroke-width="0.6"/>
<text x="22.3" y="520.7" font-size="9.2" fill="#dfe1e6" textLength="45.3" lengthAdjust="spacingAndGlyphs" text-anchor="start">TradingView</text>
</g>
</svg></body></html>
